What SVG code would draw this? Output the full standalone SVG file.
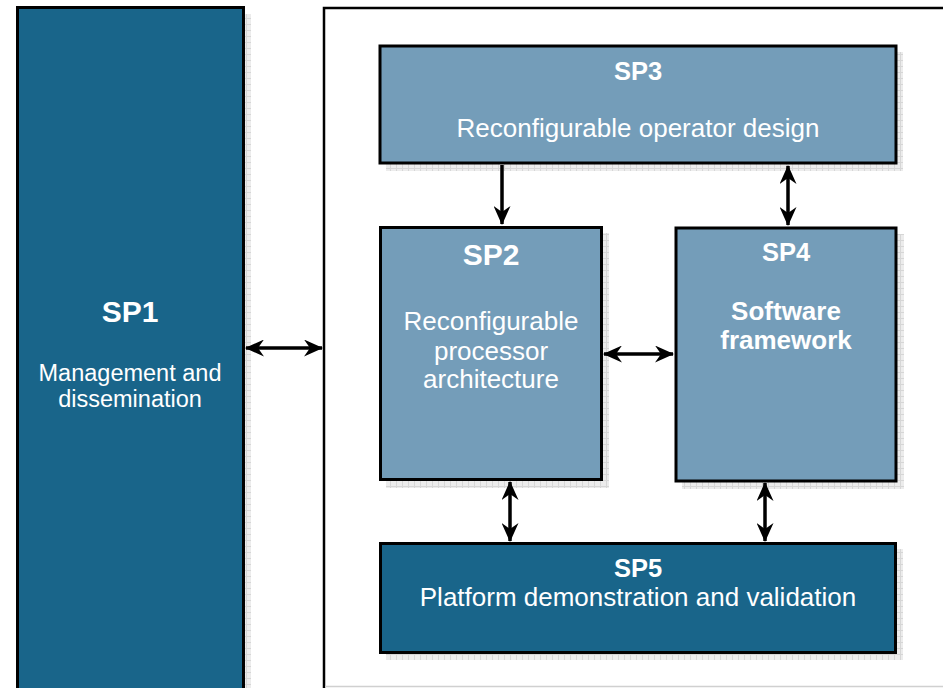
<svg xmlns="http://www.w3.org/2000/svg" width="943" height="688" viewBox="0 0 943 688">
<defs>
<pattern id="grid" width="6" height="6" patternUnits="userSpaceOnUse">
<rect width="6" height="6" fill="#ececec"/>
<path d="M0 0.5H6M0.5 0V6" stroke="#d6d6d6" stroke-width="1"/>
</pattern>
<marker id="ah" viewBox="0 0 19 17" refX="18" refY="8.5" markerWidth="19" markerHeight="17" markerUnits="userSpaceOnUse" orient="auto-start-reverse">
<path d="M0 0L19 8.5L0 17L6 8.5Z" fill="#000"/>
</marker>
</defs>
<style>
.light{fill:#749db9;stroke:#000;stroke-width:3}
.dark{fill:#19658a;stroke:#000;stroke-width:3}
.sh{fill:url(#grid)}
.t{font-family:"Liberation Sans",Arial,sans-serif;fill:#fff;text-anchor:middle}
.b{font-weight:bold}
.c{stroke:#000;stroke-width:3.5;fill:none;marker-start:url(#ah);marker-end:url(#ah)}
.c1{stroke:#000;stroke-width:3.5;fill:none;marker-end:url(#ah)}
</style>
<rect width="943" height="688" fill="#fff"/>
<g id="frame">
<path d="M324 688V8H943" fill="none" stroke="#000" stroke-width="2.5"/>
<path d="M325 686.5H943" stroke="#d0d0d0" stroke-width="1.5"/>
</g>
<g id="SP1">
<rect class="sh" x="244" y="14" width="7" height="674"/>
<rect class="dark" x="17.5" y="7.5" width="226" height="690"/>
<text class="t b" x="130" y="322" font-size="30">SP1</text>
<text class="t" x="130" y="381" font-size="23.5">Management and</text>
<text class="t" x="130" y="407" font-size="23.5">dissemination</text>
</g>
<g id="SP3">
<rect class="sh" x="386" y="52" width="517" height="119"/>
<rect class="light" x="380" y="46" width="516" height="117"/>
<text class="t b" x="638" y="80" font-size="25.5">SP3</text>
<text class="t" x="638" y="137" font-size="26">Reconfigurable operator design</text>
</g>
<g id="SP2">
<rect class="sh" x="386" y="233" width="223" height="255"/>
<rect class="light" x="380.5" y="227.5" width="221" height="252"/>
<text class="t b" x="491" y="265" font-size="30">SP2</text>
<text class="t" x="491" y="330" font-size="26">Reconfigurable</text>
<text class="t" x="491" y="360" font-size="26">processor</text>
<text class="t" x="491" y="388" font-size="26">architecture</text>
</g>
<g id="SP4">
<rect class="sh" x="682" y="234" width="222" height="255"/>
<rect class="light" x="676" y="228" width="220" height="253"/>
<text class="t b" x="786" y="261" font-size="25.5">SP4</text>
<text class="t b" x="786" y="320" font-size="26">Software</text>
<text class="t b" x="786" y="349" font-size="26">framework</text>
</g>
<g id="SP5">
<rect class="sh" x="386" y="549" width="517" height="111"/>
<rect class="dark" x="380.5" y="543.5" width="515" height="109"/>
<text class="t b" x="638" y="577" font-size="25.5">SP5</text>
<text class="t" x="638" y="606" font-size="26">Platform demonstration and validation</text>
</g>
<g id="connectors">
<path class="c1" d="M502 165V224"/>
<path class="c" d="M788 166V225"/>
<path class="c" d="M246 348H322"/>
<path class="c" d="M604 354H673"/>
<path class="c" d="M510 482V541"/>
<path class="c" d="M765 483V541"/>
</g>
</svg>
